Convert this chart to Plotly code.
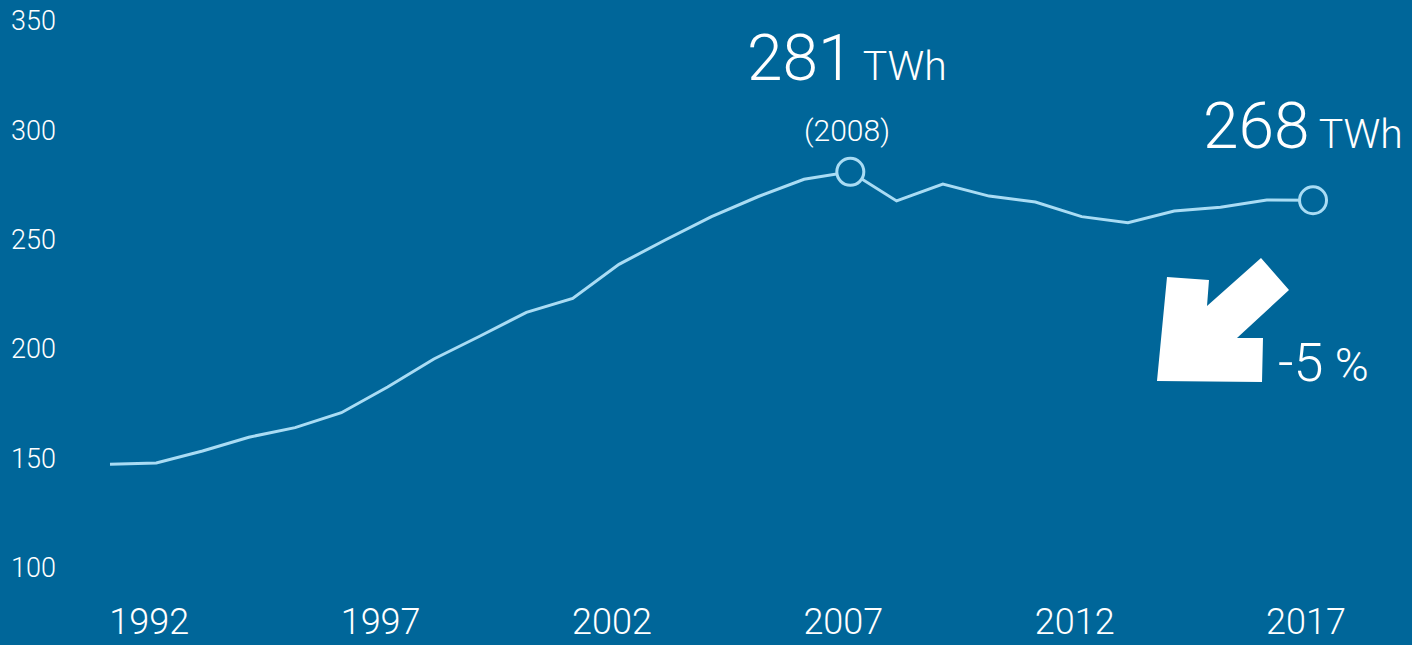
import plotly.graph_objects as go

# ---- data ----
years = list(range(1991, 2018))
consumption_twh = [147.2, 147.8, 153.3, 159.6, 164.0, 170.8, 182.6, 195.4, 205.9, 216.7,
                   223.1, 238.7, 249.8, 260.5, 269.6, 277.6, 281.0, 267.7, 275.4, 269.9,
                   267.2, 260.5, 257.7, 263.1, 264.8, 268.1, 268.0]
x_tick_vals = [1992, 1997, 2002, 2007, 2012, 2017]
x_tick_text = ["1992", "1997", "2002", "2007", "2012", "2017"]
y_tick_vals = [100, 150, 200, 250, 300, 350]
y_tick_text = ["100", "150", "200", "250", "300", "350"]
highlight_idx = [16, 26]
peak_label = "281"
peak_year_label = "(2008)"
last_label = "268"
unit = "TWh"
change_label = "-5"

BG = "#006699"
LINE = "#A9DCF4"
FONT = "Roboto, Liberation Sans, sans-serif"
WEIGHT = 300

W, H = 1412, 645
ML, MR, MT, MB = 62, 0, 0, 50

fig = go.Figure()
fig.add_trace(go.Scatter(
    x=years, y=consumption_twh, mode="lines",
    line=dict(color=LINE, width=3), hoverinfo="skip", showlegend=False))
fig.add_trace(go.Scatter(
    x=[years[i] for i in highlight_idx], y=[consumption_twh[i] for i in highlight_idx],
    mode="markers",
    marker=dict(size=27, color=BG, line=dict(color=LINE, width=3)),
    hoverinfo="skip", showlegend=False))

pk, ls = highlight_idx
fig.add_annotation(x=years[pk], y=consumption_twh[pk], xref="x", yref="y",
                   text=f"{peak_label}<span style='font-size:41px'> {unit}</span>",
                   showarrow=False, xanchor="center", yanchor="bottom", yshift=74,
                   xshift=-3,
                   font=dict(family=FONT, size=64, color="white", weight=WEIGHT))
fig.add_annotation(x=years[pk], y=consumption_twh[pk], xref="x", yref="y",
                   text=peak_year_label, showarrow=False, xanchor="center",
                   yanchor="bottom", yshift=22, xshift=-3,
                   font=dict(family=FONT, size=30, color="white", weight=WEIGHT))
fig.add_annotation(x=years[ls], y=consumption_twh[ls], xref="x", yref="y",
                   text=f"{last_label}<span style='font-size:41px'> {unit}</span>",
                   showarrow=False, xanchor="right", yanchor="bottom", yshift=34,
                   xshift=92,
                   font=dict(family=FONT, size=64, color="white", weight=WEIGHT))
fig.add_annotation(x=years[ls], y=consumption_twh[ls], xref="x", yref="y",
                   text=f"{change_label}<span style='font-size:46px'> %</span>",
                   showarrow=False, xanchor="left", yanchor="bottom", xshift=-37,
                   yshift=-196,
                   font=dict(family=FONT, size=54, color="white", weight=WEIGHT))

# decorative block arrow (pixel outline -> paper coordinates)
arrow_px = [(1167, 277), (1209, 280), (1207, 306), (1261, 258), (1289, 290),
            (1237, 338), (1263, 338), (1262, 382), (1157, 381)]
pw, ph = W - ML - MR, H - MT - MB
pts = [((px - ML) / pw, (ph + MT - py) / ph) for px, py in arrow_px]
path = "M " + " L ".join(f"{a:.5f},{b:.5f}" for a, b in pts) + " Z"
fig.add_shape(type="path", path=path, xref="paper", yref="paper",
              fillcolor="white", line=dict(width=0), layer="above")

px_per_year = 46.27
x0 = 1991 - (110 - ML) / px_per_year
x1 = x0 + pw / px_per_year
px_per_unit = 2.186
y0 = 100 - (H - MB - 567.5) / px_per_unit
y1 = 100 + (567.5 - MT) / px_per_unit

fig.update_layout(
    width=W, height=H,
    margin=dict(l=ML, r=MR, t=MT, b=MB, autoexpand=False),
    paper_bgcolor=BG, plot_bgcolor=BG,
    xaxis=dict(range=[x0, x1], tickvals=x_tick_vals, ticktext=x_tick_text,
               showgrid=False, zeroline=False, showline=False, ticks="",
               automargin=False,
               ticklabelshift=-7, ticklabelstandoff=2,
               tickfont=dict(family=FONT, size=36, color="white", weight=WEIGHT)),
    yaxis=dict(range=[y0, y1], tickvals=y_tick_vals, ticktext=y_tick_text,
               showgrid=False, zeroline=False, showline=False, ticks="",
               automargin=False,
               ticklabelstandoff=5,
               tickfont=dict(family=FONT, size=27, color="white", weight=WEIGHT)),
)

fig.write_html("out.html",
               config={"displayModeBar": False},
               post_script="document.body.style.margin='0';"
                           "document.body.style.overflow='hidden';")
